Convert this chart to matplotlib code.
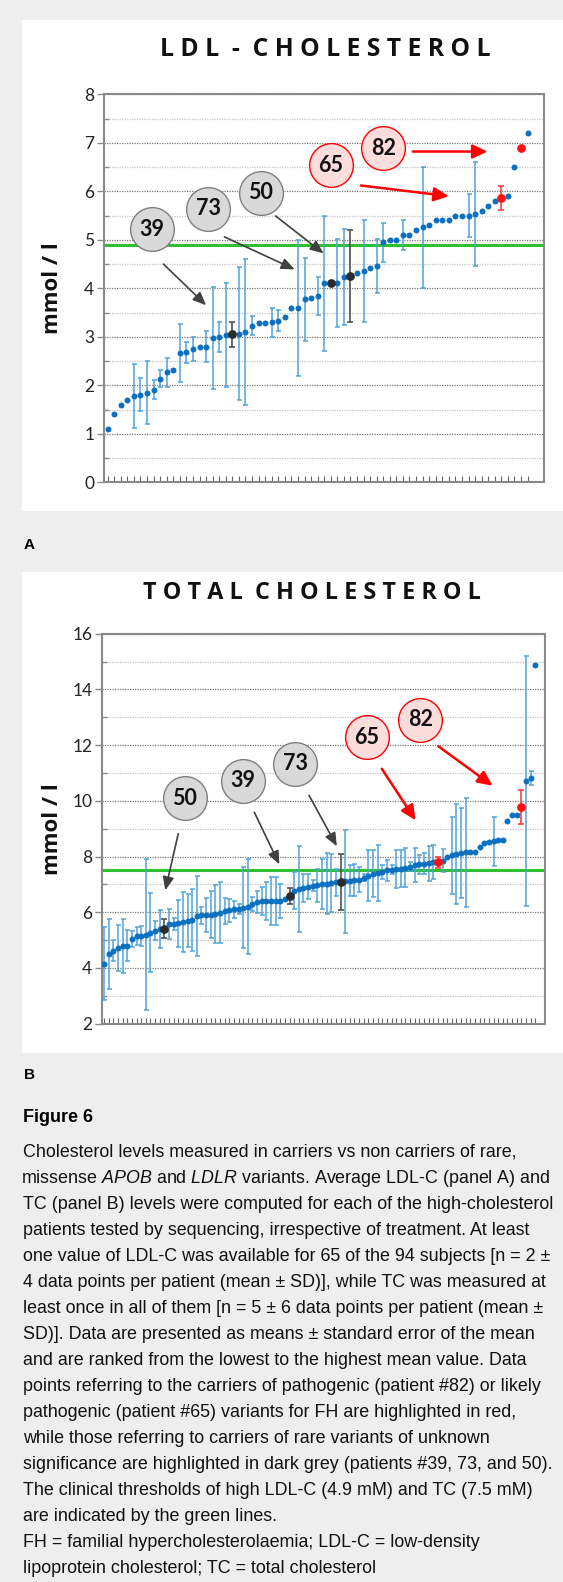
import numpy as np
import matplotlib
matplotlib.use("Agg")
import matplotlib.pyplot as plt
from matplotlib.patches import Rectangle
from matplotlib.ticker import MultipleLocator

W, H = 563, 1582

# Panel A: LDL-C, mean and SEM per patient, ranked low to high
ldl_mean = [1.10, 1.40, 1.60, 1.70, 1.77, 1.81, 1.85, 1.91, 2.14, 2.27,
            2.31, 2.66, 2.68, 2.75, 2.79, 2.80, 2.97, 2.99, 3.03, 3.05,
            3.06, 3.10, 3.23, 3.29, 3.29, 3.30, 3.33, 3.40, 3.60, 3.60,
            3.77, 3.80, 3.84, 4.10, 4.11, 4.11, 4.24, 4.25, 4.31, 4.35,
            4.41, 4.46, 4.95, 5.00, 5.00, 5.10, 5.10, 5.21, 5.26, 5.31,
            5.41, 5.41, 5.41, 5.50, 5.50, 5.50, 5.54, 5.60, 5.70, 5.81,
            5.86, 5.90, 6.50, 6.90, 7.20]
ldl_sem = [0, 0, 0, 0, 0.66, 0.35, 0.65, 0.20, 0.17, 0.30,
           0, 0.60, 0.22, 0.24, 0, 0.32, 1.05, 0.31, 1.07, 0.25,
           1.37, 1.50, 0.19, 0, 0, 0.30, 0.22, 0, 0, 1.40,
           0.85, 0, 0.39, 1.40, 0, 0.90, 0.99, 0.95, 0, 1.05,
           0, 0.55, 0.40, 0, 0, 0.31, 0, 0, 1.25, 0,
           0, 0, 0, 0, 0, 0.45, 1.07, 0, 0, 0,
           0.25, 0, 0, 0, 0]
ldl_grey = [19, 34, 37]   # patients 39, 73, 50
ldl_red = [60, 63]        # patients 65, 82
ldl_threshold = 4.9

# Panel B: TC, mean and SEM per patient, ranked low to high
tc_mean = [4.16, 4.51, 4.62, 4.71, 4.78, 4.80, 5.05, 5.15, 5.16, 5.20,
           5.26, 5.34, 5.41, 5.41, 5.57, 5.59, 5.60, 5.66, 5.70, 5.72,
           5.87, 5.89, 5.90, 5.92, 5.93, 5.99, 6.05, 6.07, 6.11, 6.13,
           6.17, 6.20, 6.30, 6.37, 6.39, 6.40, 6.40, 6.41, 6.41, 6.47,
           6.59, 6.77, 6.83, 6.86, 6.91, 6.95, 6.97, 7.00, 7.03, 7.05,
           7.07, 7.08, 7.11, 7.14, 7.15, 7.17, 7.24, 7.32, 7.39, 7.41,
           7.45, 7.50, 7.53, 7.55, 7.57, 7.60, 7.64, 7.69, 7.72, 7.75,
           7.76, 7.81, 7.79, 7.85, 8.00, 8.05, 8.10, 8.13, 8.15, 8.18,
           8.18, 8.34, 8.49, 8.51, 8.55, 8.58, 8.58, 9.29, 9.49, 9.49,
           9.79, 10.71, 10.83, 14.88]
tc_sem = [1.32, 1.25, 0.37, 0.82, 0.97, 0.55, 0.28, 0.33, 0.36, 2.70,
          1.42, 0.35, 0.68, 0.35, 0.53, 0.22, 0.83, 1.08, 0.96, 1.12,
          1.45, 0.31, 0.61, 0.83, 1.05, 1.10, 0.47, 0.42, 0.30, 0.18,
          1.45, 1.70, 0.25, 0.40, 0.50, 0.67, 0.85, 0.87, 0.62, 0,
          0.28, 0.67, 1.55, 0.50, 0.45, 0.20, 0.60, 0.90, 1.10, 1.05,
          0.50, 1.00, 1.85, 0.55, 0.58, 0.45, 0.12, 0.90, 0.85, 1.00,
          0.25, 0.38, 0.15, 0.69, 0.68, 0.70, 0.15, 0.60, 0.33, 0.36,
          0.62, 0.60, 0.20, 0.42, 0, 1.38, 1.80, 1.60, 1.95, 0,
          0, 0, 0, 0, 0.88, 0, 0, 0, 0, 0,
          0.61, 4.48, 0.25, 0]
tc_grey = [13, 40, 51]    # patients 50, 39, 73
tc_red = [72, 90]         # patients 65, 82
tc_threshold = 7.5

# callouts: label, kind, circle centre, arrow start, arrow end (data units)
ldl_callouts = [
    ("39", "grey", (6.7, 5.22), (8.5, 4.50), (15.0, 3.65)),
    ("73", "grey", (15.3, 5.64), (17.8, 5.06), (28.5, 4.39)),
    ("50", "grey", (23.3, 5.97), (25.6, 5.49), (32.9, 4.72)),
    ("65", "red", (34.0, 6.54), (38.6, 6.12), (52.0, 5.90)),
    ("82", "red", (42.0, 6.89), (46.5, 6.82), (57.9, 6.82)),
]
tc_callouts = [
    ("50", "grey", (17.4, 10.10), (16.0, 8.82), (13.2, 6.79)),
    ("39", "grey", (29.9, 10.72), (32.4, 9.59), (37.8, 7.72)),
    ("73", "grey", (41.2, 11.33), (44.2, 10.20), (50.2, 8.37)),
    ("65", "red", (56.6, 12.29), (59.9, 11.15), (67.2, 9.30)),
    ("82", "red", (68.2, 12.91), (72.1, 11.96), (83.8, 10.54)),
]

caption = [
    "Cholesterol levels measured in carriers vs non carriers of rare,",
    r"missense $\mathit{APOB}$ and $\mathit{LDLR}$ variants. Average LDL-C (panel A) and",
    "TC (panel B) levels were computed for each of the high-cholesterol",
    "patients tested by sequencing, irrespective of treatment. At least",
    "one value of LDL-C was available for 65 of the 94 subjects [n = 2 \u00b1",
    "4 data points per patient (mean \u00b1 SD)], while TC was measured at",
    "least once in all of them [n = 5 \u00b1 6 data points per patient (mean \u00b1",
    "SD)]. Data are presented as means \u00b1 standard error of the mean",
    "and are ranked from the lowest to the highest mean value. Data",
    "points referring to the carriers of pathogenic (patient #82) or likely",
    "pathogenic (patient #65) variants for FH are highlighted in red,",
    "while those referring to carriers of rare variants of unknown",
    "significance are highlighted in dark grey (patients #39, 73, and 50).",
    "The clinical thresholds of high LDL-C (4.9 mM) and TC (7.5 mM)",
    "are indicated by the green lines.",
    "FH = familial hypercholesterolaemia; LDL-C = low-density",
    "lipoprotein cholesterol; TC = total cholesterol",
]

BLUE = "#0a70bf"
BAR = "#4fa3d8"
DARK = "#2b2b2b"
RED = "#ff1010"
GREEN = "#2fc02f"
AXIS = "#8a8a8a"

plt.rcParams["mathtext.fontset"] = "custom"
plt.rcParams["mathtext.rm"] = "Liberation Sans"
plt.rcParams["mathtext.it"] = "Liberation Sans:italic"


def fx(x):
    return x / W


def fy(y):
    return 1 - y / H


def draw_panel(ax, mean, sem, grey, red, thr, ylim, major, minor, xlim, callouts):
    mean = np.array(mean)
    sem = np.array(sem)
    x = np.arange(len(mean))
    normal = np.ones(len(mean), bool)
    normal[grey] = False
    normal[red] = False
    bars = normal & (sem > 0)

    ax.errorbar(x[bars], mean[bars], yerr=sem[bars], fmt="none", ecolor=BAR,
                elinewidth=1.1, capsize=1.8, capthick=1.1, zorder=3)
    ax.plot(x[normal], mean[normal], "o", color=BLUE, ms=4.3, mec="none", zorder=4)

    for idx, col, ecol in ((grey, DARK, "#505050"), (red, RED, "#ff4040")):
        idx = np.array(idx)
        e = sem[idx]
        ax.errorbar(x[idx], mean[idx], yerr=e, fmt="none", ecolor=ecol,
                    elinewidth=1.2, capsize=2.2, capthick=1.2, zorder=5)
        ax.plot(x[idx], mean[idx], "o", color=col, ms=6.3, mec="none", zorder=6)

    ax.axhline(thr, color=GREEN, lw=2.2, zorder=2)

    ax.set_xlim(*xlim)
    ax.set_ylim(*ylim)
    ax.set_xticks(x)
    ax.tick_params(axis="x", direction="in", length=4.5, width=0.8,
                   color="#666666", labelbottom=False)
    ax.yaxis.set_major_locator(MultipleLocator(major))
    ax.yaxis.set_minor_locator(MultipleLocator(minor))
    ax.tick_params(axis="y", which="major", direction="out", length=5,
                   width=1, color=AXIS, labelsize=12.5, labelcolor="#222222", pad=2)
    ax.tick_params(axis="y", which="minor", direction="in", length=3.5,
                   width=1, color=AXIS)
    for lab in ax.get_yticklabels():
        lab.set_family("Lato")
    ax.grid(True, axis="y", which="major", linestyle=(0, (1, 1)), color="#7a7a7a", lw=0.9)
    ax.grid(True, axis="y", which="minor", linestyle=(0, (1, 1)), color="#c4c4c4", lw=0.9)
    ax.set_axisbelow(True)
    for s in ax.spines.values():
        s.set_color(AXIS)
        s.set_linewidth(1.5)

    for label, kind, c, a0, a1 in callouts:
        if kind == "red":
            fc, ec, lc = "#fddcdc", "#ff0000", "#ff0000"
            style = "-|>,head_length=9,head_width=4.2"
            lw = 1.8
        else:
            fc, ec, lc = "#d9d9d9", "#7f7f7f", "#404040"
            style = "-|>,head_length=8,head_width=3.4"
            lw = 1.2
        ax.annotate("", xy=a1, xytext=a0,
                    arrowprops=dict(arrowstyle=style, color=lc, lw=lw,
                                    shrinkA=0, shrinkB=0, mutation_scale=1),
                    zorder=7)
        ax.plot(*c, "o", ms=31.5, mfc=fc, mec=ec, mew=1.0, zorder=8, clip_on=False)
        ax.text(c[0], c[1], label, ha="center", va="center", fontsize=15.5,
                fontweight="bold", family="Lato", color="#111111", zorder=9)


fig = plt.figure(figsize=(W / 100, H / 100), dpi=100)
fig.patch.set_facecolor("#eeeeee")
fig.patches.append(Rectangle((fx(22), fy(510.7)), fx(W - 22), (510.7 - 20) / H,
                             transform=fig.transFigure, fc="white", ec="none", zorder=-5))
fig.patches.append(Rectangle((fx(22), fy(1052.7)), fx(W - 22), (1052.7 - 572) / H,
                             transform=fig.transFigure, fc="white", ec="none", zorder=-5))

axA = fig.add_axes([fx(104), fy(482.3), fx(544 - 104), (482.3 - 94.3) / H])
draw_panel(axA, ldl_mean, ldl_sem, ldl_grey, ldl_red, ldl_threshold,
           (0, 8), 1, 0.5, (-0.56, 66.5), ldl_callouts)

axB = fig.add_axes([fx(102), fy(1023.7), fx(545 - 102), (1023.7 - 633.7) / H])
draw_panel(axB, tc_mean, tc_sem, tc_grey, tc_red, tc_threshold,
           (2, 16), 2, 1, (-0.45, 95.1), tc_callouts)

# titles, axis labels
fig.text(fx(325), fy(50), "L D L  -  C H O L E S T E R O L", ha="center", va="center",
         fontsize=17.8, fontweight="bold", family="Open Sans", color="#111111")
fig.text(fx(312), fy(593), "T O T A L  C H O L E S T E R O L", ha="center", va="center",
         fontsize=16.8, fontweight="bold", family="Open Sans", color="#111111")
for yc in (288.3, 828.7):
    fig.text(fx(53), fy(yc), "mmol / l", rotation=90, ha="center", va="center",
             fontsize=16, fontweight="bold", family="Open Sans", color="#111111")

# panel letters and caption
fig.text(fx(24), fy(545), "A", ha="left", va="center", fontsize=11,
         fontweight="bold", family="Liberation Sans")
fig.text(fx(24), fy(1075), "B", ha="left", va="center", fontsize=11,
         fontweight="bold", family="Liberation Sans")
fig.text(fx(23), fy(1118), "Figure 6", ha="left", va="center", fontsize=13,
         fontweight="bold", family="Liberation Sans")
for k, line in enumerate(caption):
    x0 = 21 if "$" in line else 23
    fig.text(fx(x0), fy(1152 + k * 26.02), line, ha="left", va="center",
             fontsize=12.9, family="Liberation Sans", color="#111111")

fig.savefig("out.png", dpi=100, facecolor=fig.get_facecolor())
